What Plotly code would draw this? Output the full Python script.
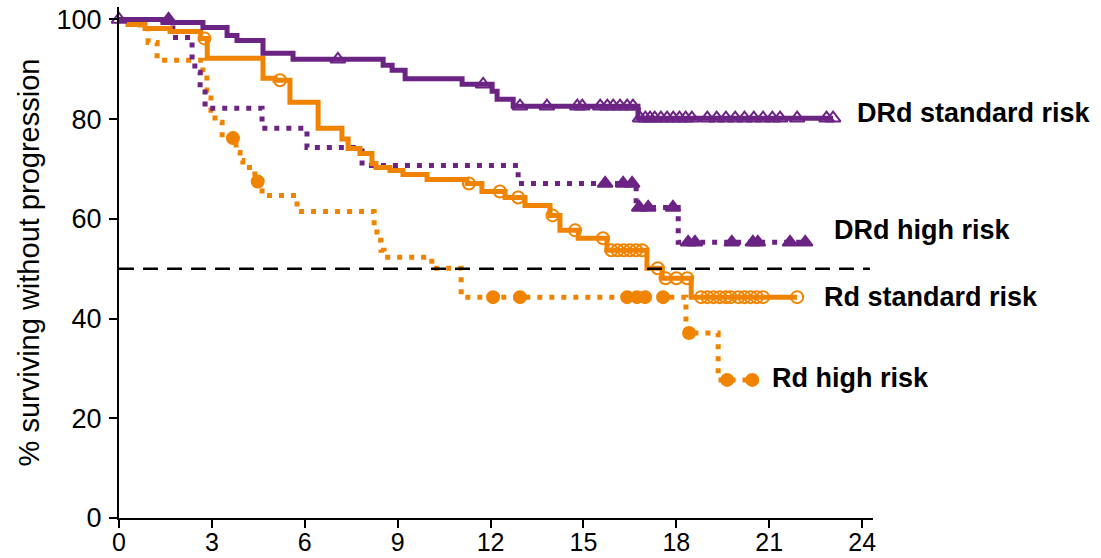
import numpy as np
import plotly.graph_objects as go

# ---------------- data (months, % surviving without progression) ----------------
drd_std_t = [0, 1.42, 2.71, 3.49, 3.81, 4.65, 5.62, 8.53, 8.82, 9.24, 11.08, 12.05, 12.21, 12.73, 16.76]
drd_std_s = [100, 99.4, 98.4, 96.8, 95.8, 93.2, 92.0, 90.8, 89.8, 88.1, 87.0, 85.6, 84.0, 82.6, 80.2]
drd_std_end = 23.06
drd_std_cens = [0, 7.07, 11.76, 12.95, 13.82, 14.8, 14.96, 15.54, 15.77, 15.96, 16.18, 16.41, 16.6,
                16.83, 17.0, 17.15, 17.3, 17.5, 17.7, 17.9, 18.1, 18.3, 18.5, 19.0, 19.3, 19.6,
                19.9, 20.2, 20.5, 20.8, 21.1, 21.35, 21.9, 22.85, 23.06]

drd_hi_t = [0, 1.74, 2.36, 2.45, 2.62, 2.78, 4.62, 6.07, 7.85, 12.89, 16.7, 18.06]
drd_hi_s = [100, 96.4, 91.6, 89.4, 86.2, 82.2, 78.2, 74.3, 70.7, 67.1, 62.3, 55.3]
drd_hi_end = 22.16
drd_hi_cens = [1.6, 15.7, 16.28, 16.57, 16.8, 17.09, 17.89, 18.38, 18.6, 19.79, 20.47, 20.63, 21.67, 22.16]

rd_std_t = [0, 0.29, 0.84, 1.65, 2.64, 2.85, 4.65, 5.04, 5.52, 6.43, 7.2, 7.4, 7.78, 8.17, 8.3,
            8.75, 9.17, 9.95, 11.24, 11.72, 12.47, 13.11, 13.92, 14.24, 14.83, 15.76, 17.05, 17.54, 18.48]
rd_std_s = [100, 99.0, 98.2, 97.6, 96.2, 92.2, 88.2, 87.8, 83.4, 78.2, 76.0, 74.1, 73.1, 71.1, 70.3,
            69.7, 68.9, 67.9, 67.1, 65.5, 64.3, 62.7, 60.7, 57.7, 56.1, 53.7, 50.1, 48.1, 44.3]
rd_std_end = 21.9
rd_std_cens = [2.76, 5.2, 11.3, 12.3, 12.89, 14.0, 14.73, 15.63, 15.9, 16.1, 16.3, 16.5, 16.7, 16.9,
               17.4, 17.65, 18.0, 18.35, 18.8, 19.0, 19.2, 19.4, 19.6, 19.75, 20.0, 20.2, 20.4,
               20.6, 20.8, 21.9]

rd_hi_t = [0, 0.68, 0.94, 1.23, 2.71, 2.84, 2.97, 3.1, 3.33, 3.78, 3.91, 4.0, 4.39, 4.62, 5.75,
           8.24, 8.33, 8.46, 8.56, 10.1, 11.05, 18.31, 19.35]
rd_hi_s = [100, 98.2, 95.4, 91.8, 89.4, 85.8, 81.8, 79.4, 76.2, 73.3, 71.7, 70.3, 67.5, 64.7, 61.5,
           58.7, 55.7, 53.7, 52.3, 50.1, 44.3, 37.1, 27.7]
rd_hi_end = 20.45
rd_hi_cens = [3.68, 4.48, 12.08, 12.95, 16.41, 16.73, 16.99, 17.57, 18.41, 19.64, 20.45]

median_line = 50
x_ticks = [0, 3, 6, 9, 12, 15, 18, 21, 24]
y_ticks = [0, 20, 40, 60, 80, 100]

labels = ["DRd standard risk", "DRd high risk", "Rd standard risk", "Rd high risk"]
label_x = [23.77, 23.03, 22.71, 21.03]
label_y = [81.2, 57.7, 44.3, 28.1]

PURPLE = "#6b2484"
ORANGE = "#f08400"
FONT = "Liberation Sans, Arial, sans-serif"


def step_at(t, s, x):
    idx = np.searchsorted(np.asarray(t), np.asarray(x), side="right") - 1
    return np.asarray(s)[idx]


fig = go.Figure()

fig.add_shape(type="line", xref="x", yref="y", x0=0, x1=24.25, y0=median_line, y1=median_line,
              line=dict(color="black", width=2.5, dash="15px,9px"), layer="above")

series = [
    (rd_hi_t, rd_hi_s, rd_hi_end, rd_hi_cens, ORANGE, "5px,7px", "circle", 12),
    (drd_hi_t, drd_hi_s, drd_hi_end, drd_hi_cens, PURPLE, "5px,7px", "triangle-up", 13),
    (rd_std_t, rd_std_s, rd_std_end, rd_std_cens, ORANGE, "solid", "circle-open", 12),
    (drd_std_t, drd_std_s, drd_std_end, drd_std_cens, PURPLE, "solid", "triangle-up-open", 13),
]

for t, s, end, cens, col, dash, sym, msize in series:
    xs = list(t) + [end]
    ys = list(s) + [s[-1]]
    fig.add_trace(go.Scatter(x=xs, y=ys, mode="lines", line=dict(color=col, width=5, dash=dash, shape="hv"),
                             cliponaxis=False, showlegend=False, hoverinfo="skip"))
    fig.add_trace(go.Scatter(x=cens, y=step_at(t, s, cens), mode="markers",
                             marker=dict(symbol=sym, size=msize, color=col, line=dict(color=col, width=2)),
                             cliponaxis=False, showlegend=False, hoverinfo="skip"))

for txt, lx, ly in zip(labels, label_x, label_y):
    fig.add_annotation(x=lx, y=ly, xref="x", yref="y", text="<b>" + txt + "</b>", showarrow=False,
                       xanchor="left", yanchor="middle", font=dict(family=FONT, size=27, color="black"))

fig.update_layout(
    width=1101, height=558,
    margin=dict(l=119, r=228, t=6.5, b=40, autoexpand=False),
    paper_bgcolor="white", plot_bgcolor="white",
    font=dict(family=FONT, size=27, color="black"),
    showlegend=False,
)
fig.update_xaxes(range=[0, 24.35], tickvals=x_ticks, ticks="outside", ticklen=8, tickwidth=2,
                 tickcolor="black", showline=True, linecolor="black", linewidth=2,
                 showgrid=False, zeroline=False, tickfont=dict(size=25), ticklabelstandoff=-7)
fig.update_yaxes(range=[0, 102.5], tickvals=y_ticks, ticks="outside", ticklen=8, tickwidth=2,
                 tickcolor="black", showline=True, linecolor="black", linewidth=2,
                 showgrid=False, zeroline=False, tickfont=dict(size=27), ticklabelstandoff=2,
                 title=dict(text="% surviving without progression", font=dict(size=29), standoff=8))

fig.write_html("out.html")
